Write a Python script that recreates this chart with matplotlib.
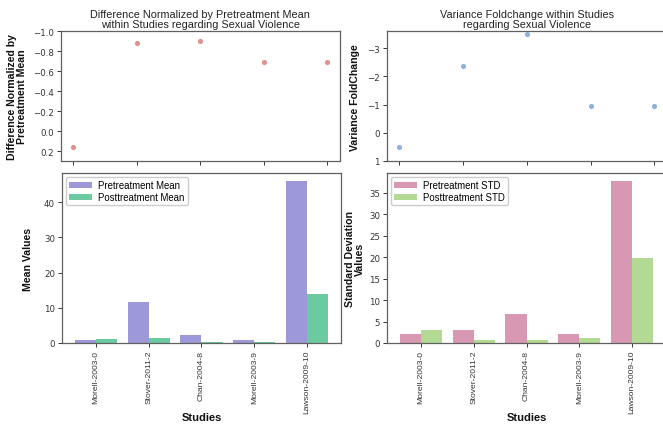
import matplotlib
matplotlib.use("Agg")
import matplotlib.pyplot as plt
import numpy as np

studies = ["Morell-2003-0", "Stover-2011-2", "Chan-2004-8", "Morell-2003-9", "Lawson-2009-10"]
diff_norm = [0.16, -0.885, -0.90, -0.695, -0.695]
var_fold = [0.5, -2.38, -3.5, -0.94, -0.94]
pre_mean = [0.95, 11.7, 2.36, 0.77, 45.9]
post_mean = [1.1, 1.3, 0.24, 0.24, 13.9]
pre_std = [2.1, 3.1, 6.8, 2.1, 37.6]
post_std = [3.1, 0.7, 0.7, 1.2, 19.7]

W, H = 663, 427
fig = plt.figure(figsize=(W / 100, H / 100), dpi=100)

def ax_at(x0, y0, x1, y1):
    return fig.add_axes([x0 / W, 1 - y1 / H, (x1 - x0) / W, (y1 - y0) / H])

spine_c = "#606060"
tick_c = "#333333"
font = "Liberation Sans"

def style(ax):
    for s in ax.spines.values():
        s.set_color(spine_c)
        s.set_linewidth(0.9)
    ax.tick_params(colors=tick_c, labelsize=6.2, length=3, width=0.7, pad=2)
    for t in ax.get_yticklabels():
        t.set_family("DejaVu Sans")

x = np.arange(len(studies))

title_kw = dict(fontsize=7.8, family=font, pad=3, linespacing=1.05, color="#222222")
lab_kw = dict(fontsize=7.6, fontweight="bold", family=font, linespacing=1.0, color="#111111")

# Top-left
ax1 = ax_at(60.5, 32.3, 340, 162)
ax1.scatter(x, diff_norm, color="#e0938c", s=14, zorder=3, linewidths=0)
ax1.set_ylim(0.3, -1.0)
ax1.set_xlim(-0.2, 4.2)
ax1.set_xticks(x)
ax1.set_xticklabels([])
ax1.set_yticks([-1.0, -0.8, -0.6, -0.4, -0.2, 0.0, 0.2])
ax1.set_title("Difference Normalized by Pretreatment Mean\nwithin Studies regarding Sexual Violence", **title_kw)
ax1.set_ylabel("Difference Normalized by\nPretreatment Mean", labelpad=4, **lab_kw)
style(ax1)

# Top-right
ax2 = ax_at(386.5, 32.3, 667, 162)
ax2.scatter(x, var_fold, color="#8fb1de", s=14, zorder=3, linewidths=0)
ax2.set_ylim(1, -3.6)
ax2.set_xlim(-0.2, 4.2)
ax2.set_xticks(x)
ax2.set_xticklabels([])
ax2.set_yticks([-3, -2, -1, 0, 1])
ax2.set_title("Variance Foldchange within Studies\nregarding Sexual Violence", **title_kw)
ax2.set_ylabel("Variance FoldChange", labelpad=5, **lab_kw)
style(ax2)

w = 0.4
leg_kw = dict(loc="upper left", prop={"family": font, "size": 6.9}, handlelength=2.4,
              handleheight=0.6, borderpad=0.35, labelspacing=0.15, framealpha=1,
              handletextpad=0.6, borderaxespad=0.4)
ylab_x_y = -0.405  # axes-fraction y for the top of the "Studies" label

# Bottom-left
ax3 = ax_at(62, 174.3, 341, 344)
ax3.bar(x - w / 2, pre_mean, w, color="#9d98d8", label="Pretreatment Mean")
ax3.bar(x + w / 2, post_mean, w, color="#6ccaa0", label="Posttreatment Mean")
ax3.set_xticks(x)
ax3.set_xticklabels(studies, rotation=90, family=font)
ax3.set_yticks([0, 10, 20, 30, 40])
ax3.set_ylabel("Mean Values", labelpad=8, **lab_kw)
ax3.set_xlabel("Studies", **dict(lab_kw, fontsize=8))
ax3.xaxis.set_label_coords(0.5, ylab_x_y)
ax3.legend(**leg_kw)
style(ax3)
ax3.tick_params(axis="x", labelsize=6.1)

# Bottom-right
ax4 = ax_at(387, 174.3, 666, 344)
ax4.bar(x - w / 2, pre_std, w, color="#d898b4", label="Pretreatment STD")
ax4.bar(x + w / 2, post_std, w, color="#b2da94", label="Posttreatment STD")
ax4.set_xticks(x)
ax4.set_xticklabels(studies, rotation=90, family=font)
ax4.set_yticks([0, 5, 10, 15, 20, 25, 30, 35])
ax4.set_ylabel("Standard Deviation\nValues", labelpad=3, **lab_kw)
ax4.set_xlabel("Studies", **dict(lab_kw, fontsize=8))
ax4.xaxis.set_label_coords(0.5, ylab_x_y)
ax4.legend(**leg_kw)
style(ax4)
ax4.tick_params(axis="x", labelsize=6.1)

fig.savefig("out.png", dpi=100)
